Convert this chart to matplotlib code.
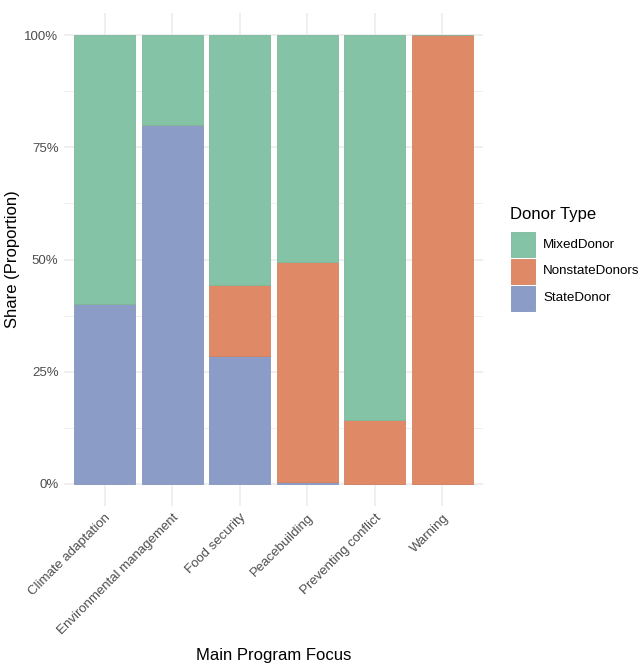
import numpy as np
import matplotlib
matplotlib.use("Agg")
import matplotlib.pyplot as plt
from matplotlib.patches import Rectangle

plt.rcParams["font.family"] = ["Liberation Sans", "DejaVu Sans"]

focus = ["Climate adaptation", "Environmental management", "Food security",
         "Peacebuilding", "Preventing conflict", "Warning"]
state = [0.40, 0.80, 0.285, 0.004, 0.0, 0.0]
nonstate = [0.0, 0.0, 0.159, 0.490, 0.143, 1.0]
mixed = [1 - s - n for s, n in zip(state, nonstate)]

donor_types = ["MixedDonor", "NonstateDonors", "StateDonor"]
colors = {"MixedDonor": "#85C3A6", "NonstateDonors": "#DF8966", "StateDonor": "#8B9CC7"}
edges = {"MixedDonor": "#7DB89C", "NonstateDonors": "#D48260", "StateDonor": "#8494BD"}

fig = plt.figure(figsize=(6.44, 6.64), dpi=100)
ax = fig.add_axes([64 / 644, 158 / 664, 419 / 644, 493 / 664])

x = np.arange(len(focus))
w = 0.9
ax.bar(x, state, w, color=colors["StateDonor"], edgecolor=edges["StateDonor"], linewidth=0.6, zorder=2)
ax.bar(x, nonstate, w, bottom=state, color=colors["NonstateDonors"],
       edgecolor=edges["NonstateDonors"], linewidth=0.6, zorder=2)
ax.bar(x, mixed, w, bottom=np.array(state) + np.array(nonstate), color=colors["MixedDonor"],
       edgecolor=edges["MixedDonor"], linewidth=0.6, zorder=2)

ax.set_xlim(-0.6, len(focus) - 0.4)
ax.set_ylim(-0.05, 1.05)
ax.set_yticks([0, 0.25, 0.5, 0.75, 1.0])
ax.set_yticklabels(["0%", "25%", "50%", "75%", "100%"])
ax.set_yticks([0.125, 0.375, 0.625, 0.875], minor=True)
ax.set_xticks(x)
ax.set_xticklabels(focus, rotation=45, ha="right", rotation_mode="anchor")

ax.grid(True, which="major", color="#EBEBEB", linewidth=1.1, zorder=0)
ax.grid(True, which="minor", axis="y", color="#EBEBEB", linewidth=0.55, zorder=0)
ax.set_axisbelow(True)
for sp in ax.spines.values():
    sp.set_visible(False)
ax.tick_params(which="both", length=0, labelsize=9.5, labelcolor="#4D4D4D", pad=4)

ax.set_xlabel("Main Program Focus", fontsize=12, labelpad=8)
ax.set_ylabel("Share (Proportion)", fontsize=12, labelpad=3)

# legend
fig.text(510 / 644, 1 - 215 / 664, "Donor Type", fontsize=12, va="center", ha="left")
for i, d in enumerate(donor_types):
    y0 = 232 + i * 27
    fig.patches.append(Rectangle((511 / 644, 1 - (y0 + 25) / 664), 24 / 644, 25 / 664,
                                 transform=fig.transFigure, facecolor=colors[d],
                                 edgecolor=edges[d], linewidth=0.6))
    fig.text(543 / 644, 1 - (y0 + 12.5) / 664, d, fontsize=9.6, va="center", ha="left")

fig.savefig("out.png", dpi=100)
